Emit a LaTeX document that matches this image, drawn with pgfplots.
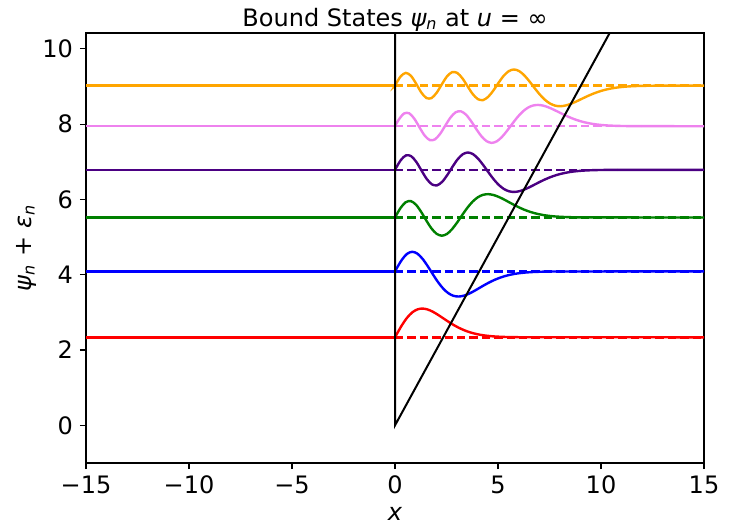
\documentclass[border=0pt]{standalone}
\usepackage{fontspec}
\setmainfont{DejaVu Sans}
\usepackage{pgfplots}
\pgfplotsset{compat=1.18}
\definecolor{mplgreen}{HTML}{008000}
\definecolor{mplindigo}{HTML}{4B0082}
\definecolor{mplviolet}{HTML}{EE82EE}
\definecolor{mplorange}{HTML}{FFA500}
\begin{document}
\begin{tikzpicture}
\begin{axis}[
  name=ax,
  scale only axis, width=309pt, height=215pt,
  xmin=-15, xmax=15, ymin=-1, ymax=10.42,
  xtick={-15,-10,-5,0,5,10,15}, xticklabels={−15,−10,−5,0,5,10,15},
  ytick={0,2,4,6,8,10}, yticklabels={0,2,4,6,8,10},
  tick align=outside, tick pos=left, major tick length=3pt,
  tick style={black, line width=0.6pt},
  axis line style={line width=0.6pt},
  tick label style={font=\fontsize{12}{14}\selectfont},
  title={Bound States {\itshape ψ\textsubscript{n}} at {\itshape u} = ∞},
  every axis title/.style={font=\fontsize{12}{14}\selectfont, at={(axis description cs:0.5,1)}, anchor=base, yshift=3.3pt, inner sep=0pt},
  xlabel={\itshape x},
  xlabel style={font=\fontsize{12}{14}\selectfont, at={(axis description cs:0.5,-0.133)}, anchor=base, inner sep=0pt},
  ylabel={{\itshape ψ\textsubscript{n}} + {\itshape ε\textsubscript{n}}},
  ylabel style={font=\fontsize{12}{14}\selectfont, at={(axis description cs:-0.097,0.5)}, anchor=center, rotate=0, inner sep=0pt},
  every axis plot/.append style={line width=1.2pt},
  mydash/.style={dash pattern=on 4.2pt off 2pt},
]
% ---- n = 1, E = 2.33811
\addplot[red, sharp plot] coordinates {(-15,2.33811) (0,2.33811)};
\addplot[red, smooth] coordinates {
(0,2.3381) (0.0881,2.4260) (0.3381,2.6624) (0.5881,2.8593) (0.8381,3.0002)
(1.0881,3.0797) (1.3381,3.1019) (1.5881,3.0765) (1.8381,3.0166) (2.0881,2.9353)
(2.3381,2.8444) (2.5881,2.7534) (2.8381,2.6685) (3.0881,2.5939) (3.3381,2.5311)
(3.5881,2.4802) (3.8381,2.4404) (4.0881,2.4102) (4.3381,2.3879) (4.5881,2.3719)
(4.8381,2.3605) (5.0881,2.3528) (5.3381,2.3475) (5.8381,2.3418) (6.3381,2.3395)};
\addplot[red, sharp plot] coordinates {(6.3381,2.3395) (15,2.33811)};
\addplot[red, mydash] coordinates {(0,2.33811) (15,2.33811)};
% ---- n = 2, E = 4.08795
\addplot[blue, sharp plot] coordinates {(-15,4.08795) (0,4.08795)};
\addplot[blue, smooth] coordinates {
(0,4.0880) (0.0880,4.1755) (0.3380,4.4013) (0.5880,4.5556) (0.8380,4.6096)
(1.0880,4.5596) (1.3380,4.4216) (1.5880,4.2278) (1.8380,4.0113) (2.0880,3.8048)
(2.3380,3.6329) (2.5880,3.5099) (2.8380,3.4404) (3.0880,3.4211) (3.3380,3.4432)
(3.5880,3.4956) (3.8380,3.5666) (4.0880,3.6459) (4.3380,3.7254) (4.5880,3.7995)
(4.8380,3.8646) (5.0880,3.9195) (5.3380,3.9639) (5.5880,3.9986) (5.8380,4.0250)
(6.0880,4.0445) (6.3380,4.0584) (6.5880,4.0684) (6.8380,4.0752) (7.0880,4.0797)
(7.5880,4.0847) (8.0880,4.0868)};
\addplot[blue, sharp plot] coordinates {(8.0880,4.0868) (15,4.08795)};
\addplot[blue, mydash] coordinates {(0,4.08795) (15,4.08795)};
% ---- n = 3, E = 5.52056
\addplot[mplgreen, sharp plot] coordinates {(-15,5.52056) (0,5.52056)};
\addplot[mplgreen, smooth] coordinates {
(0,5.5206) (0.0206,5.5411) (0.2706,5.7737) (0.5206,5.9260) (0.7706,5.9551)
(1.0206,5.8582) (1.2706,5.6682) (1.5206,5.4393) (1.7706,5.2297) (2.0206,5.0865)
(2.2706,5.0364) (2.5206,5.0827) (2.7706,5.2108) (3.0206,5.3907) (3.2706,5.5918)
(3.5206,5.7834) (3.7706,5.9430) (4.0206,6.0571) (4.2706,6.1216) (4.5206,6.1396)
(4.7706,6.1190) (5.0206,6.0704) (5.2706,6.0045) (5.5206,5.9309) (5.7706,5.8571)
(6.0206,5.7884) (6.2706,5.7278) (6.5206,5.6769) (6.7706,5.6357) (7.0206,5.6035)
(7.2706,5.5790) (7.5206,5.5609) (7.7706,5.5480) (8.0206,5.5387) (8.2706,5.5324)
(8.5206,5.5282) (9.0206,5.5235) (9.5206,5.5217)};
\addplot[mplgreen, sharp plot] coordinates {(9.5206,5.5217) (15,5.52056)};
\addplot[mplgreen, mydash] coordinates {(0,5.52056) (15,5.52056)};
% ---- n = 4, E = 6.78671
\addplot[mplindigo, sharp plot] coordinates {(-15,6.78671) (0,6.78671)};
\addplot[mplindigo, smooth] coordinates {
(0,6.7867) (0.0367,6.8234) (0.2867,7.0480) (0.5367,7.1705) (0.7867,7.1481)
(1.0367,6.9940) (1.2867,6.7672) (1.5367,6.5462) (1.7867,6.4016) (2.0367,6.3740)
(2.2867,6.4660) (2.5367,6.6465) (2.7867,6.8640) (3.0367,7.0630) (3.2867,7.1990)
(3.5367,7.2466) (3.7867,7.2026) (4.0367,7.0809) (4.2867,6.9100) (4.5367,6.7191)
(4.7867,6.5370) (5.0367,6.3855) (5.2867,6.2770) (5.5367,6.2158) (5.7867,6.1987)
(6.0367,6.2183) (6.2867,6.2644) (6.5367,6.3270) (6.7867,6.3969) (7.0367,6.4670)
(7.2867,6.5323) (7.5367,6.5898) (7.7867,6.6382) (8.0367,6.6773) (8.2867,6.7079)
(8.5367,6.7312) (8.7867,6.7484) (9.0367,6.7607) (9.2867,6.7694) (9.5367,6.7754)
(9.7867,6.7795) (10.2867,6.7839) (10.7867,6.7857)};
\addplot[mplindigo, sharp plot] coordinates {(10.7867,6.7857) (15,6.78671)};
\addplot[mplindigo, mydash] coordinates {(0,6.78671) (15,6.78671)};
% ---- n = 5, E = 7.94413
\addplot[mplviolet, sharp plot] coordinates {(-15,7.94413) (0,7.94413)};
\addplot[mplviolet, smooth] coordinates {
(0,7.9441) (0.1941,8.1288) (0.4441,8.2838) (0.6941,8.2859) (0.9441,8.1386)
(1.1941,7.9089) (1.4441,7.6929) (1.6941,7.5751) (1.9441,7.5967) (2.1941,7.7448)
(2.4441,7.9629) (2.6941,8.1753) (2.9441,8.3144) (3.1941,8.3410) (3.4441,8.2525)
(3.6941,8.0789) (3.9441,7.8699) (4.1941,7.6785) (4.4441,7.5477) (4.6941,7.5019)
(4.9441,7.5443) (5.1941,7.6612) (5.4441,7.8256) (5.6941,8.0092) (5.9441,8.1842)
(6.1941,8.3299) (6.4441,8.4342) (6.6941,8.4931) (6.9441,8.5095) (7.1941,8.4907)
(7.4441,8.4463) (7.6941,8.3861) (7.9441,8.3189) (8.1941,8.2515) (8.4441,8.1887)
(8.6941,8.1334) (8.9441,8.0869) (9.1941,8.0493) (9.4441,8.0199) (9.6941,7.9975)
(9.9441,7.9810) (10.1941,7.9692) (10.4441,7.9607) (10.6941,7.9550) (10.9441,7.9511)
(11.4441,7.9469) (11.9441,7.9451)};
\addplot[mplviolet, sharp plot] coordinates {(11.9441,7.9451) (15,7.94413)};
\addplot[mplviolet, mydash] coordinates {(0,7.94413) (15,7.94413)};
% ---- n = 6, E = 9.02265
\addplot[mplorange, sharp plot] coordinates {(-15,9.02265) (0,9.02265)};
\addplot[mplorange, smooth] coordinates {
(0,9.0227) (0.0227,9.0453) (0.2727,9.2663) (0.5227,9.3604) (0.7727,9.2829)
(1.0227,9.0765) (1.2727,8.8437) (1.5227,8.6936) (1.7727,8.6916) (2.0227,8.8342)
(2.2727,9.0568) (2.5227,9.2661) (2.7727,9.3802) (3.0227,9.3592) (3.2727,9.2157)
(3.5227,9.0044) (3.7727,8.7987) (4.0227,8.6640) (4.2727,8.6382) (4.5227,8.7239)
(4.7727,8.8921) (5.0227,9.0946) (5.2727,9.2800) (5.5227,9.4067) (5.7727,9.4510)
(6.0227,9.4100) (6.2727,9.2967) (6.5227,9.1375) (6.7727,8.9597) (7.0227,8.7901)
(7.2727,8.6489) (7.5227,8.5479) (7.7727,8.4909) (8.0227,8.4750) (8.2727,8.4932)
(8.5227,8.5362) (8.7727,8.5945) (9.0227,8.6596) (9.2727,8.7249) (9.5227,8.7857)
(9.7727,8.8393) (10.0227,8.8843) (10.2727,8.9208) (10.5227,8.9493) (10.7727,8.9709)
(11.0227,8.9869) (11.2727,8.9984) (11.5227,9.0066) (11.7727,9.0121) (12.0227,9.0159)
(12.5227,9.0200) (13.0227,9.0217)};
\addplot[mplorange, sharp plot] coordinates {(13.0227,9.0217) (15,9.02265)};
\addplot[mplorange, mydash] coordinates {(0,9.02265) (15,9.02265)};
% ---- potential: infinite wall at x = 0, linear ramp V = x
\addplot[black, sharp plot, line width=1pt] coordinates {(0,11) (0,0) (11,11)};
\end{axis}
\pgfresetboundingbox
\path[use as bounding box] ([shift={(-43pt,-33.15pt)}]ax.south west) rectangle ([shift={(13.5pt,16.5pt)}]ax.north east);
\end{tikzpicture}
\end{document}
